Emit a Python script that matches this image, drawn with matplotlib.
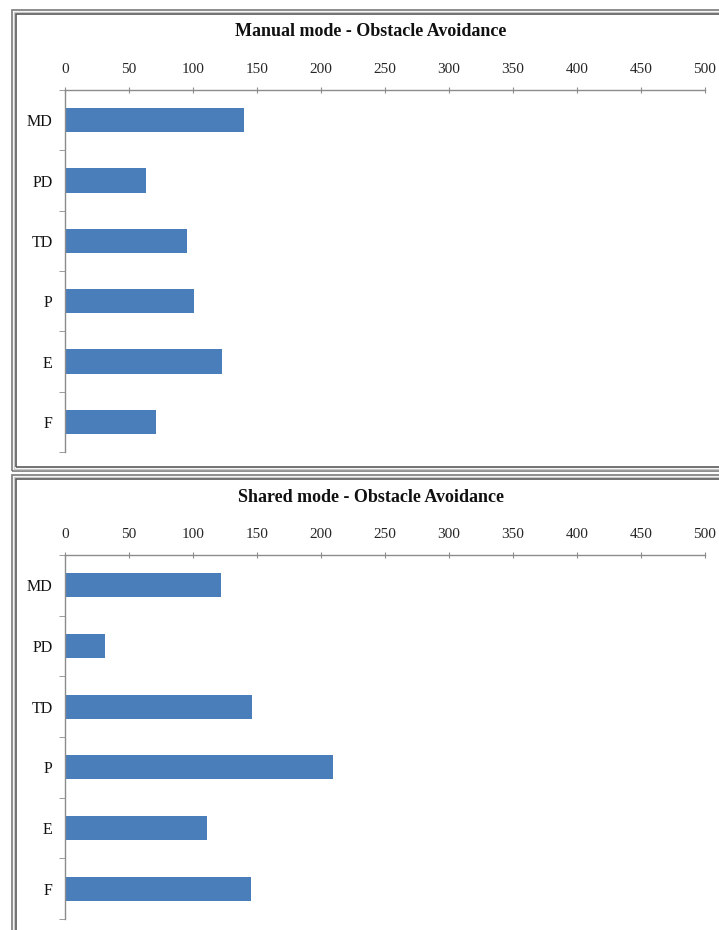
import matplotlib
matplotlib.use("Agg")
import matplotlib.pyplot as plt
from matplotlib.patches import Rectangle
import numpy as np

categories = ["MD", "PD", "TD", "P", "E", "F"]
manual_values = [140, 63, 95, 101, 123, 71]
shared_values = [122, 31, 146, 209, 111, 145]
x_ticks = [0, 50, 100, 150, 200, 250, 300, 350, 400, 450, 500]
titles = ["Manual mode - Obstacle Avoidance", "Shared mode - Obstacle Avoidance"]

W, H = 719, 930
fig = plt.figure(figsize=(W / 100, H / 100), dpi=100)
fig.patch.set_facecolor("white")

plt.rcParams["font.family"] = ["Liberation Serif", "DejaVu Serif"]

BAR = "#4a7ebb"
AXC = "#8c8c8c"
TXT = "#262626"


def px_rect(x0, y0, x1, y1):
    return [x0 / W, 1 - y1 / H, (x1 - x0) / W, (y1 - y0) / H]


def frame(x0, y0, x1, y1):
    for off, col, lw in [(0, "#7a7a7a", 1.2), (2, "#c8c8c8", 1.0), (4, "#5a5a5a", 1.2)]:
        r = Rectangle(((x0 + off) / W, 1 - (y1 - off) / H),
                      (x1 - x0 - 2 * off) / W, (y1 - y0 - 2 * off) / H,
                      transform=fig.transFigure, fill=False, edgecolor=col,
                      linewidth=lw, zorder=0)
        fig.add_artist(r)


frame(12, 10, 740, 471)
frame(12, 475, 740, 950)

panels = [
    (manual_values, titles[0], (65, 90, 705, 452), 32),
    (shared_values, titles[1], (65, 555, 705, 919), 497),
]

for vals, title, (x0, y0, x1, y1), ty in panels:
    ax = fig.add_axes(px_rect(x0, y0, x1, y1))
    ypos = np.arange(len(categories))
    ax.barh(ypos, vals, height=0.4, color=BAR, zorder=2)
    ax.set_xlim(0, 500)
    ax.set_ylim(len(categories) - 0.5, -0.5)
    ax.xaxis.tick_top()
    ax.set_xticks(x_ticks)
    ax.set_xticklabels([str(t) for t in x_ticks])
    ax.set_yticks(ypos)
    ax.set_yticklabels(categories)
    ax.set_yticks(np.arange(-0.5, len(categories), 1.0), minor=True)
    for s in ["bottom", "right"]:
        ax.spines[s].set_visible(False)
    for s in ["top", "left"]:
        ax.spines[s].set_color(AXC)
        ax.spines[s].set_linewidth(1.0)
    ax.tick_params(axis="x", which="major", direction="inout", length=5,
                   color=AXC, labelsize=11, labelcolor=TXT, pad=7.5)
    ax.tick_params(axis="y", which="major", length=0, labelsize=11.5,
                   labelcolor="#111111", pad=9)
    ax.tick_params(axis="y", which="minor", direction="out", length=4,
                   color=AXC)
    ax.tick_params(axis="x", which="minor", length=0)
    fig.text(371 / W, 1 - ty / H, title,
             ha="center", va="center", fontsize=13, fontweight="bold",
             color="#111111")

fig.savefig("out.png", dpi=100, facecolor="white")
